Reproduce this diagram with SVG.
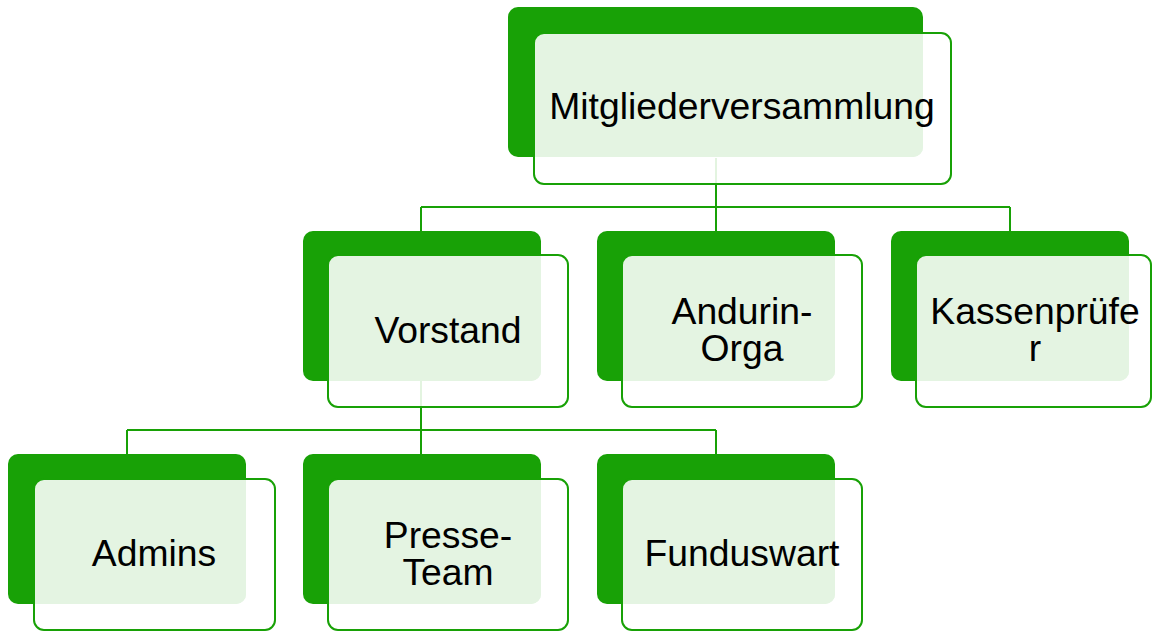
<svg xmlns="http://www.w3.org/2000/svg" width="1152" height="633" viewBox="0 0 1152 633">
<style>
.back{fill:#18a106}
.cover{fill:#ffffff;fill-opacity:0.88}
.light{fill:#e4f4e2}
.outline{fill:none;stroke:#18a106;stroke-width:2}
.conn{fill:none;stroke:#18a106;stroke-width:2}
text{font-family:"Liberation Sans",Arial,sans-serif;font-size:37.3px;fill:#000;text-anchor:middle}
</style>
<rect width="1152" height="633" fill="#fff"/>
<g id="connectors">
<path class="conn" d="M716,158 V207 M421,207 H1010 M421,207 V231 M716,207 V231 M1010,207 V231"/>
<path class="conn" d="M421,381 V430 M127,430 H716 M127,430 V454 M421,430 V454 M716,430 V454"/>
</g>
<g id="mitgliederversammlung">
<rect class="back" x="508" y="7" width="415" height="150" rx="10"/>
<rect class="cover" x="534" y="33" width="417" height="151" rx="10"/>
<path class="light" d="M544,33 H923 V147 A10,10 0 0 1 913,157 H534 V43 A10,10 0 0 1 544,33 Z"/>
<rect class="outline" x="534" y="33" width="417" height="151" rx="10"/>
<text x="742" y="119">Mitgliederversammlung</text>
</g>
<g id="vorstand">
<rect class="back" x="303" y="231" width="238" height="150" rx="10"/>
<rect class="cover" x="328" y="255" width="240" height="152" rx="10"/>
<path class="light" d="M338,255 H541 V371 A10,10 0 0 1 531,381 H328 V265 A10,10 0 0 1 338,255 Z"/>
<rect class="outline" x="328" y="255" width="240" height="152" rx="10"/>
<text x="448" y="343">Vorstand</text>
</g>
<g id="andurin-orga">
<rect class="back" x="597" y="231" width="238" height="150" rx="10"/>
<rect class="cover" x="622" y="255" width="240" height="152" rx="10"/>
<path class="light" d="M632,255 H835 V371 A10,10 0 0 1 825,381 H622 V265 A10,10 0 0 1 632,255 Z"/>
<rect class="outline" x="622" y="255" width="240" height="152" rx="10"/>
<text x="742" y="324">Andurin-</text>
<text x="742" y="361">Orga</text>
</g>
<g id="kassenpruefer">
<rect class="back" x="891" y="231" width="238" height="150" rx="10"/>
<rect class="cover" x="916" y="255" width="235" height="152" rx="10"/>
<path class="light" d="M926,255 H1129 V371 A10,10 0 0 1 1119,381 H916 V265 A10,10 0 0 1 926,255 Z"/>
<rect class="outline" x="916" y="255" width="235" height="152" rx="10"/>
<text x="1035" y="324">Kassenprüfe</text>
<text x="1035" y="361">r</text>
</g>
<g id="admins">
<rect class="back" x="8" y="454" width="238" height="150" rx="10"/>
<rect class="cover" x="34" y="479" width="241" height="151" rx="10"/>
<path class="light" d="M44,479 H246 V594 A10,10 0 0 1 236,604 H34 V489 A10,10 0 0 1 44,479 Z"/>
<rect class="outline" x="34" y="479" width="241" height="151" rx="10"/>
<text x="154" y="566">Admins</text>
</g>
<g id="presse-team">
<rect class="back" x="303" y="454" width="238" height="150" rx="10"/>
<rect class="cover" x="328" y="479" width="240" height="151" rx="10"/>
<path class="light" d="M338,479 H541 V594 A10,10 0 0 1 531,604 H328 V489 A10,10 0 0 1 338,479 Z"/>
<rect class="outline" x="328" y="479" width="240" height="151" rx="10"/>
<text x="448" y="548">Presse-</text>
<text x="448" y="585">Team</text>
</g>
<g id="funduswart">
<rect class="back" x="597" y="454" width="238" height="150" rx="10"/>
<rect class="cover" x="622" y="479" width="240" height="151" rx="10"/>
<path class="light" d="M632,479 H835 V594 A10,10 0 0 1 825,604 H622 V489 A10,10 0 0 1 632,479 Z"/>
<rect class="outline" x="622" y="479" width="240" height="151" rx="10"/>
<text x="742" y="566">Funduswart</text>
</g>
</svg>
